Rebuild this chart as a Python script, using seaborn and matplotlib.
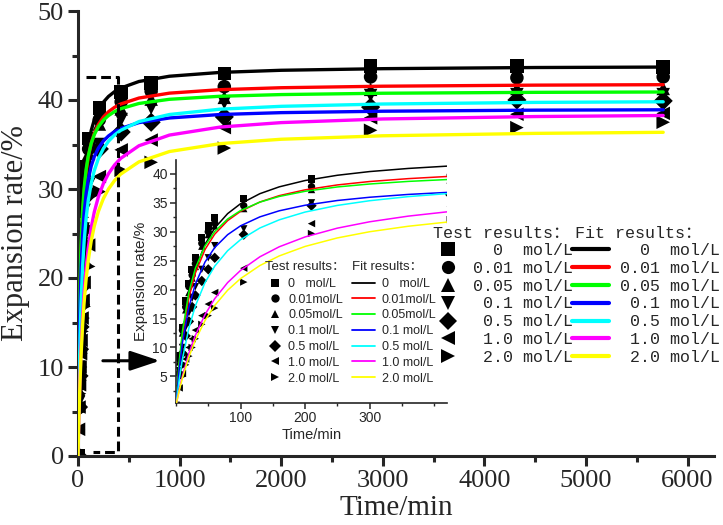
import matplotlib
matplotlib.use('Agg')
import matplotlib.pyplot as plt
from matplotlib.lines import Line2D
from matplotlib.ticker import MultipleLocator, FixedLocator
import pandas as pd
import seaborn as sns

# ---- data ----
concs = ['0 mol/L', '0.01 mol/L', '0.05 mol/L', '0.1 mol/L', '0.5 mol/L', '1.0 mol/L', '2.0 mol/L']
colors = ['#000000', '#ff0000', '#00ff00', '#0000ff', '#00ffff', '#ff00ff', '#ffff00']
markers = ['s', 'o', '^', 'v', 'D', '<', '>']

# measured expansion (test results)
test_time = [0, 5, 10, 15, 20, 25, 30, 40, 50, 60, 105, 210, 425, 720, 1440, 2880, 4320, 5760]
test_0 = [0, 8.5, 13.5, 18.0, 21.0, 23.5, 25.5, 29.0, 31.0, 32.5, 35.7, 39.1, 40.9, 41.9, 43.0, 43.8, 43.8, 43.7]
test_001 = [0, 8.0, 13.0, 17.0, 20.5, 22.5, 24.5, 28.0, 30.0, 31.5, 34.5, 37.8, 39.8, 41.0, 41.5, 42.6, 42.5, 42.6]
test_005 = [0, 7.5, 12.5, 16.5, 19.5, 22.0, 24.0, 27.5, 29.5, 31.0, 34.0, 37.3, 39.0, 40.1, 40.3, 41.2, 41.3, 41.3]
test_01 = [0, 6.0, 10.0, 13.5, 16.0, 18.5, 20.5, 23.5, 25.5, 27.6, 30.5, 35.0, 37.8, 39.1, 39.7, 40.5, 40.6, 40.6]
test_05 = [0, 5.5, 9.0, 12.0, 14.5, 17.0, 19.0, 21.5, 23.5, 25.5, 29.5, 34.5, 36.4, 37.5, 38.1, 39.2, 40.0, 39.9]
test_10 = [0, 3.0, 5.5, 8.0, 10.0, 11.5, 13.0, 15.5, 17.5, 19.5, 23.7, 31.4, 34.4, 35.5, 36.9, 38.0, 38.4, 38.5]
test_20 = [0, 3.0, 5.0, 7.0, 8.5, 10.0, 11.5, 14.0, 15.5, 16.8, 21.3, 29.7, 32.1, 33.0, 34.6, 36.6, 36.9, 37.5]

# fitted curves, read at these times
fit_time = [0, 5, 10, 20, 30, 45, 60, 80, 100, 130, 160, 200, 250, 300, 360, 420,
            600, 900, 1400, 2000, 3000, 4500, 5760]
fit_0 = [0, 7.08, 12.19, 19.09, 23.52, 27.82, 30.63, 33.13, 34.84, 36.58, 37.76, 38.85, 39.76, 40.40,
         40.94, 41.34, 42.08, 42.67, 43.10, 43.34, 43.52, 43.65, 43.70]
fit_001 = [0, 6.98, 11.97, 18.62, 22.85, 26.94, 29.58, 31.92, 33.52, 35.14, 36.24, 37.24, 38.09, 38.68,
           39.18, 39.55, 40.22, 40.77, 41.16, 41.38, 41.55, 41.67, 41.72]
fit_005 = [0, 7.60, 12.83, 19.55, 23.69, 27.58, 30.04, 32.20, 33.66, 35.12, 36.10, 36.99, 37.74, 38.25,
           38.70, 39.02, 39.61, 40.08, 40.42, 40.61, 40.76, 40.86, 40.90]
fit_01 = [0, 6.30, 10.86, 16.99, 20.94, 24.77, 27.27, 29.49, 31.02, 32.57, 33.62, 34.58, 35.40, 35.96,
          36.45, 36.80, 37.46, 37.98, 38.37, 38.58, 38.74, 38.86, 38.90]
fit_05 = [0, 4.45, 8.02, 13.36, 17.18, 21.22, 24.05, 26.72, 28.63, 30.65, 32.06, 33.40, 34.55, 35.36,
          36.07, 36.59, 37.58, 38.37, 38.97, 39.29, 39.55, 39.73, 39.80]
fit_10 = [0, 2.73, 5.09, 9.00, 12.09, 15.69, 18.43, 21.21, 23.31, 25.67, 27.40, 29.10, 30.62, 31.72,
          32.70, 33.44, 34.86, 36.06, 36.96, 37.46, 37.87, 38.14, 38.26]
fit_20 = [0, 2.52, 4.72, 8.36, 11.27, 14.65, 17.25, 19.89, 21.90, 24.16, 25.82, 27.46, 28.93, 30.00,
          30.95, 31.67, 33.05, 34.21, 35.10, 35.59, 35.98, 36.25, 36.37]

main_labels = ['  0  mol/L', '0.01 mol/L', '0.05 mol/L', ' 0.1 mol/L', ' 0.5 mol/L', ' 1.0 mol/L', ' 2.0 mol/L']
inset_labels = ['0   mol/L', '0.01mol/L', '0.05mol/L', '0.1 mol/L', '0.5 mol/L', '1.0 mol/L', '2.0 mol/L']

tests = [test_0, test_001, test_005, test_01, test_05, test_10, test_20]
fits = [fit_0, fit_001, fit_005, fit_01, fit_05, fit_10, fit_20]

test_df = pd.DataFrame([(c, t, v) for c, vals in zip(concs, tests) for t, v in zip(test_time, vals)],
                       columns=['conc', 'time', 'rate'])
fit_df = pd.DataFrame([(c, t, v) for c, vals in zip(concs, fits) for t, v in zip(fit_time, vals)],
                      columns=['conc', 'time', 'rate'])
palette = dict(zip(concs, colors))
marker_map = dict(zip(concs, markers))

sns.set_style('ticks')
serif = ['Liberation Serif', 'DejaVu Serif']
mono = ['Liberation Mono', 'Noto Sans CJK SC']
sans = ['Liberation Sans', 'Noto Sans CJK SC']

W, H = 723, 525
fig = plt.figure(figsize=(W / 100, H / 100), dpi=100)


def fbox(x0, y0, x1, y1):
    return [x0 / W, 1 - y1 / H, (x1 - x0) / W, (y1 - y0) / H]


# ---- main axes ----
ax = fig.add_axes(fbox(78, 11, 714, 456))
sns.scatterplot(data=test_df, x='time', y='rate', style='conc', style_order=concs, markers=marker_map,
                color='black', s=95, linewidth=0, legend=False, ax=ax, zorder=2)
sns.lineplot(data=fit_df, x='time', y='rate', hue='conc', hue_order=concs, palette=palette,
             estimator=None, sort=False, lw=2.4, legend=False, ax=ax, zorder=3)
ax.set_xlim(0, 6260)
ax.set_ylim(0, 50)
ax.xaxis.set_major_locator(MultipleLocator(1000))
ax.xaxis.set_minor_locator(MultipleLocator(500))
ax.yaxis.set_major_locator(MultipleLocator(10))
ax.yaxis.set_minor_locator(MultipleLocator(5))
for s in ['top', 'right']:
    ax.spines[s].set_visible(False)
for s in ['left', 'bottom']:
    ax.spines[s].set_linewidth(2.2)
ax.tick_params(which='major', direction='out', length=7, width=2.2, pad=3)
ax.tick_params(which='minor', direction='out', length=4, width=2.2)
for lab in ax.get_xticklabels() + ax.get_yticklabels():
    lab.set_fontfamily(serif)
    lab.set_fontsize(19)
ax.set_xlabel('Time/min', family=serif, fontsize=21)
ax.set_ylabel('Expansion rate/%', family=serif, fontsize=22)
ax.xaxis.set_label_coords(0.5, -0.088)
ax.yaxis.set_label_coords(-0.075, 0.5)

# zoom box (left side hidden behind the markers) and arrow
ax.plot([80, 394, 394, 148], [42.6, 42.6, 0.45, 0.45], color='black', lw=2.2,
        ls=(0, (3.2, 1.6)), zorder=4)
ax.annotate('', xy=(805, 10.7), xytext=(245, 10.7),
            arrowprops=dict(arrowstyle='-|>,head_length=0.9,head_width=0.3', lw=2.2,
                            color='black', mutation_scale=20, shrinkA=0, shrinkB=0))

# ---- inset axes ----
axi = fig.add_axes(fbox(176, 160, 447, 403))
sns.scatterplot(data=test_df, x='time', y='rate', style='conc', style_order=concs, markers=marker_map,
                color='black', s=28, linewidth=0, legend=False, ax=axi, zorder=2)
sns.lineplot(data=fit_df, x='time', y='rate', hue='conc', hue_order=concs, palette=palette,
             estimator=None, sort=False, lw=1.1, legend=False, ax=axi, zorder=3)
axi.set_xlim(0, 420)
axi.set_ylim(0.4, 42.4)
axi.xaxis.set_major_locator(FixedLocator([100, 200, 300]))
axi.xaxis.set_minor_locator(MultipleLocator(50))
axi.yaxis.set_major_locator(FixedLocator([5, 10, 15, 20, 25, 30, 35, 40]))
axi.yaxis.set_minor_locator(MultipleLocator(2.5))
for s in ['top', 'right']:
    axi.spines[s].set_visible(False)
for s in ['left', 'bottom']:
    axi.spines[s].set_linewidth(1.2)
axi.tick_params(which='major', direction='out', length=4, width=1.1, pad=2)
axi.tick_params(which='minor', direction='out', length=2.5, width=1.0)
for lab in axi.get_xticklabels() + axi.get_yticklabels():
    lab.set_fontfamily(sans)
    lab.set_fontsize(10)
axi.set_xlabel('Time/min', family=sans, fontsize=10.5, labelpad=2)
axi.set_ylabel('Expansion rate/%', family=sans, fontsize=11, labelpad=3)

# ---- legends ----
mk_handles = [Line2D([], [], ls='', marker=m, color='black', ms=9.5, mew=0) for m in markers]
ln_handles = [Line2D([], [], color=c, lw=3) for c in colors]
common = dict(frameon=False, borderpad=0, borderaxespad=0, loc='upper left',
              bbox_transform=fig.transFigure)

fig.legend(mk_handles, main_labels, bbox_to_anchor=(440 / W, 1 - 243 / H), handlelength=1.0,
           handletextpad=1.0, labelspacing=0.17, prop=dict(family=mono, size=12), **common)
fig.legend(ln_handles, main_labels, bbox_to_anchor=(572 / W, 1 - 243 / H), handlelength=2.2,
           handletextpad=0.7, labelspacing=0.17, prop=dict(family=mono, size=12), **common)
fig.text(433 / W, 1 - 233 / H, 'Test results：', family=mono, fontsize=12, va='center', ha='left')
fig.text(575 / W, 1 - 233 / H, 'Fit results：', family=mono, fontsize=12, va='center', ha='left')

mk_small = [Line2D([], [], ls='', marker=m, color='black', ms=6, mew=0) for m in markers]
ln_small = [Line2D([], [], color=c, lw=1.3) for c in colors]
fig.legend(mk_small, inset_labels, bbox_to_anchor=(270 / W, 1 - 278 / H), handlelength=0.8,
           handletextpad=0.65, labelspacing=0.3, prop=dict(family=sans, size=9), **common)
fig.legend(ln_small, inset_labels, bbox_to_anchor=(352 / W, 1 - 278 / H), handlelength=1.85,
           handletextpad=0.55, labelspacing=0.3, prop=dict(family=sans, size=9), **common)
fig.text(265 / W, 1 - 267 / H, 'Test results：', family=sans, fontsize=9.5, va='center', ha='left')
fig.text(352 / W, 1 - 267 / H, 'Fit results：', family=sans, fontsize=9.5, va='center', ha='left')

fig.savefig('out.png', dpi=100)
